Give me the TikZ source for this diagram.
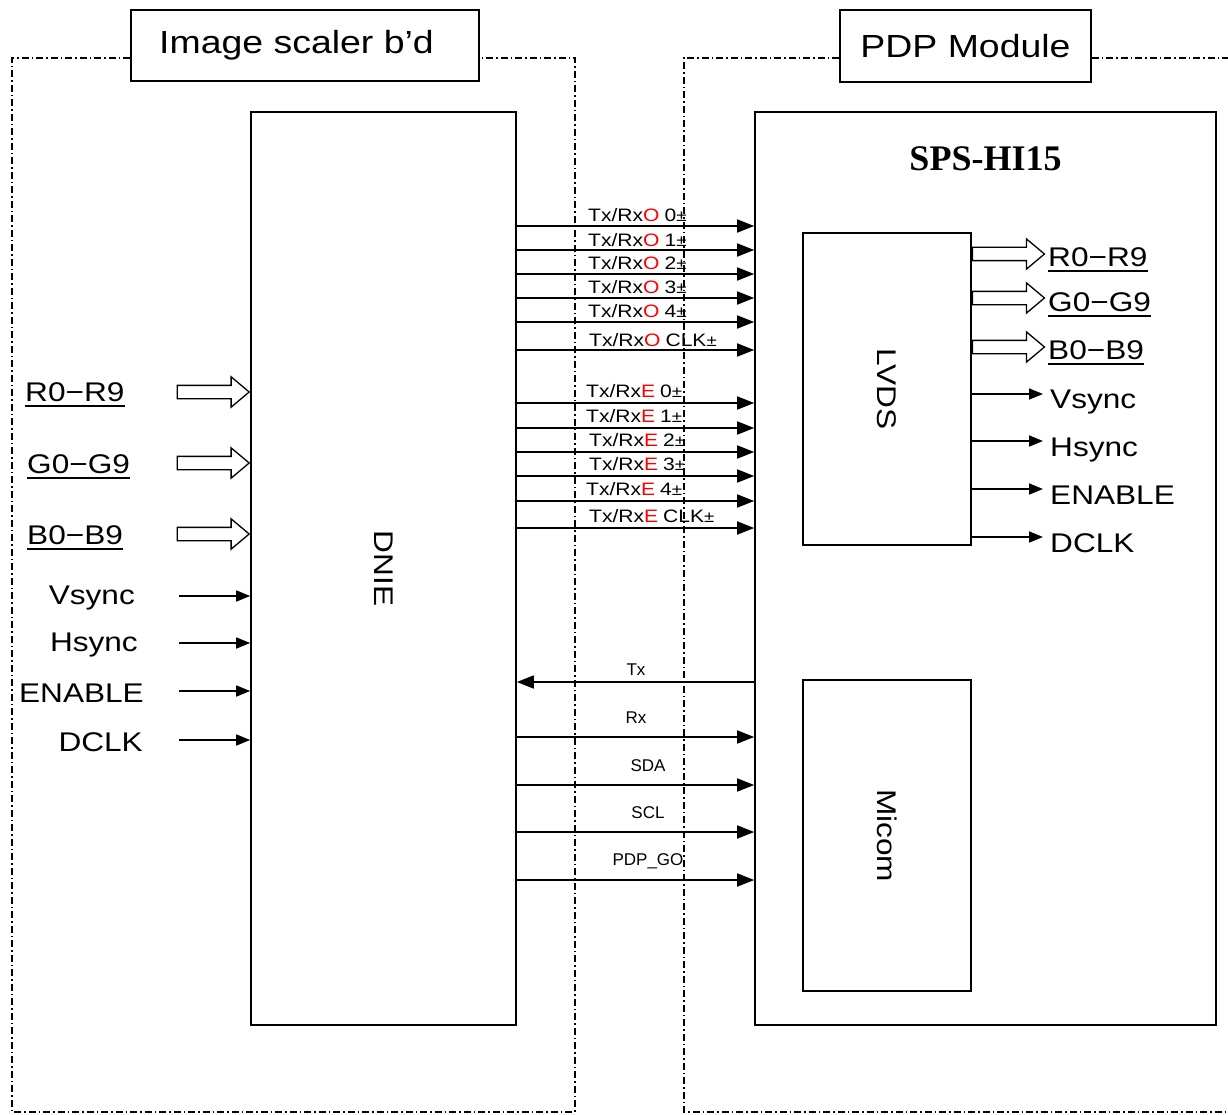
\documentclass[tikz,border=0pt]{standalone}
\usepackage{fontspec}
\setmainfont{Liberation Sans}
\newfontfamily\gul[FakeStretch=1.17]{Liberation Sans}
\newfontfamily\tms{Liberation Serif}
\usetikzlibrary{arrows.meta,shapes.arrows}
\begin{document}
\begin{tikzpicture}[x=1pt,y=-1pt,
  box/.style={draw, line width=1.6pt, inner sep=0pt},
  ddot/.style={line width=1.3pt, dash pattern=on 7pt off 3pt on 1.5pt off 3pt},
  sig/.style={line width=1.6pt, -{Triangle[length=17pt,width=13pt]}},
  sm/.style={line width=1.6pt, -{Triangle[length=14pt,width=11pt]}},
  bus/.style={single arrow, draw, line width=1.3pt, minimum height=72pt, minimum width=29pt,
    single arrow head extend=8.5pt, single arrow tip angle=80, inner xsep=0pt, inner ysep=6pt},
  lab/.style={font=\gul\fontsize{27}{30}\selectfont, inner sep=0pt},
  ttl/.style={font=\gul\fontsize{32}{34}\selectfont},
  rx/.style={font=\gul\fontsize{18}{20}\selectfont, inner sep=0pt, anchor=west},
  ctl/.style={font=\fontsize{17}{19}\selectfont, inner sep=0pt},
  ul/.style={line width=1.6pt}]
\useasboundingbox (0,0) rectangle (1228,1115);

% main boxes
\node[box, minimum width=265pt, minimum height=913pt] (dnie) at (383.5,568.5) {};
\node[box, minimum width=461pt, minimum height=913pt] (sps) at (985.5,568.5) {};
\node[box, minimum width=168pt, minimum height=312pt] (lvds) at (887,389) {};
\node[box, minimum width=168pt, minimum height=311pt] (micom) at (887,835.5) {};
\node[box, ttl, minimum width=348pt, minimum height=71pt] (t1) at (305,45.5) {\hspace*{-17pt}Image scaler b’d};
\node[box, ttl, minimum width=251pt, minimum height=72pt] (t2) at (965.5,46) {PDP Module};

\node[lab, rotate=-90] (dnietxt) at (dnie.center) {DNIE};
\node[lab, rotate=-90] (lvdstxt) at (lvds.center) {LVDS};
\node[lab, rotate=-90] (micomtxt) at (micom.center) {Micom};
\node[font=\tms\bfseries\fontsize{36}{40}\selectfont, inner sep=0pt] (spstxt) at ([yshift=-48pt]sps.north) {SPS-HI15};

% dash-dot frames
\coordinate (dl) at (0,58);
\draw[ddot] (t1.west |- dl) -- (12,58) -- (12,1112) -- (575,1112) -- (575,58) -- (t1.east |- dl);
\draw[ddot] (t2.west |- dl) -- (684,58) -- (684,1112) -- (1228,1112);
\draw[ddot] (t2.east |- dl) -- (1228,58);

% LVDS signals O / E
\foreach \n/\y/\lx/\ly/\c/\t in {
  o0/226/588/215/O/0, o1/250/588/240/O/1, o2/274/588/263/O/2, o3/298/588/287/O/3, o4/322/588/311/O/4, o5/350/589/340/O/CLK,
  e0/403/586/391/E/0, e1/428/586/416/E/1, e2/452/589/440/E/2, e3/476/589/464/E/3, e4/501/586/489/E/4, e5/528/589/516/E/CLK}{
  \coordinate (r\n) at (0,\y);
  \draw[sig] (dnie.east |- r\n) -- (sps.west |- r\n);
  \node[rx] (l\n) at (\lx,\ly) {Tx/Rx\textcolor{red}{\c}\hspace{5pt}\t{\fontsize{16}{16}\selectfont ±}};
}

% control signals
\coordinate (ctx) at (0,682);
\draw[sig] (sps.west |- ctx) -- (dnie.east |- ctx);
\node[ctl] (ltx) at (636,670) {Tx};
\foreach \n/\y/\ly/\lx/\t in {rx/737/718/636/Rx, sda/785/766/648/SDA, scl/832/813/648/SCL, go/880/861/648/PDP\_GO}{
  \coordinate (c\n) at (0,\y);
  \draw[sig] (dnie.east |- c\n) -- (sps.west |- c\n);
  \node[ctl] (l\n) at (\lx,\ly) {\t};
}

% left inputs: buses
\foreach \n/\y/\by/\lx/\t in {R/392/401/25/R0−R9, G/463/473/27/G0−G9, B/534/544/27/B0−B9}{
  \coordinate (in\n) at (0,\y);
  \node[bus, anchor=tip] (bi\n) at (dnie.west |- in\n) {};
  \node[lab, anchor=base west] (li\n) at (\lx,\by) {\t};
  \draw[ul] ([yshift=-5pt]li\n.base west) -- ([yshift=-5pt]li\n.base east);
}
% left inputs: single lines
\foreach \n/\y/\by/\rx/\t in {V/596/604/135/Vsync, H/643/651/138/Hsync, E/691/702/144/ENABLE, D/740/751/143/DCLK}{
  \coordinate (s\n) at (179,\y);
  \draw[sm] (s\n) -- (dnie.west |- s\n);
  \node[lab, anchor=base east] (ls\n) at (\rx,\by) {\t};
}

% right outputs from LVDS
\foreach \n/\y/\by/\t in {R/254/266/R0−R9, G/298/311/G0−G9, B/347/359/B0−B9}{
  \coordinate (out\n) at (0,\y);
  \node[bus, anchor=tail] (bo\n) at (lvds.east |- out\n) {};
  \node[lab, anchor=base west] (lo\n) at (1048,\by) {\t};
  \draw[ul] ([yshift=-5pt]lo\n.base west) -- ([yshift=-5pt]lo\n.base east);
}
\foreach \n/\y/\by/\t in {V/394/408/Vsync, H/441/456/Hsync, E/489/504/ENABLE, D/537/552/DCLK}{
  \coordinate (o\n) at (1043,\y);
  \draw[sm] (lvds.east |- o\n) -- (o\n);
  \node[lab, anchor=base west] (lo\n) at (1050,\by) {\t};
}
\end{tikzpicture}
\end{document}
